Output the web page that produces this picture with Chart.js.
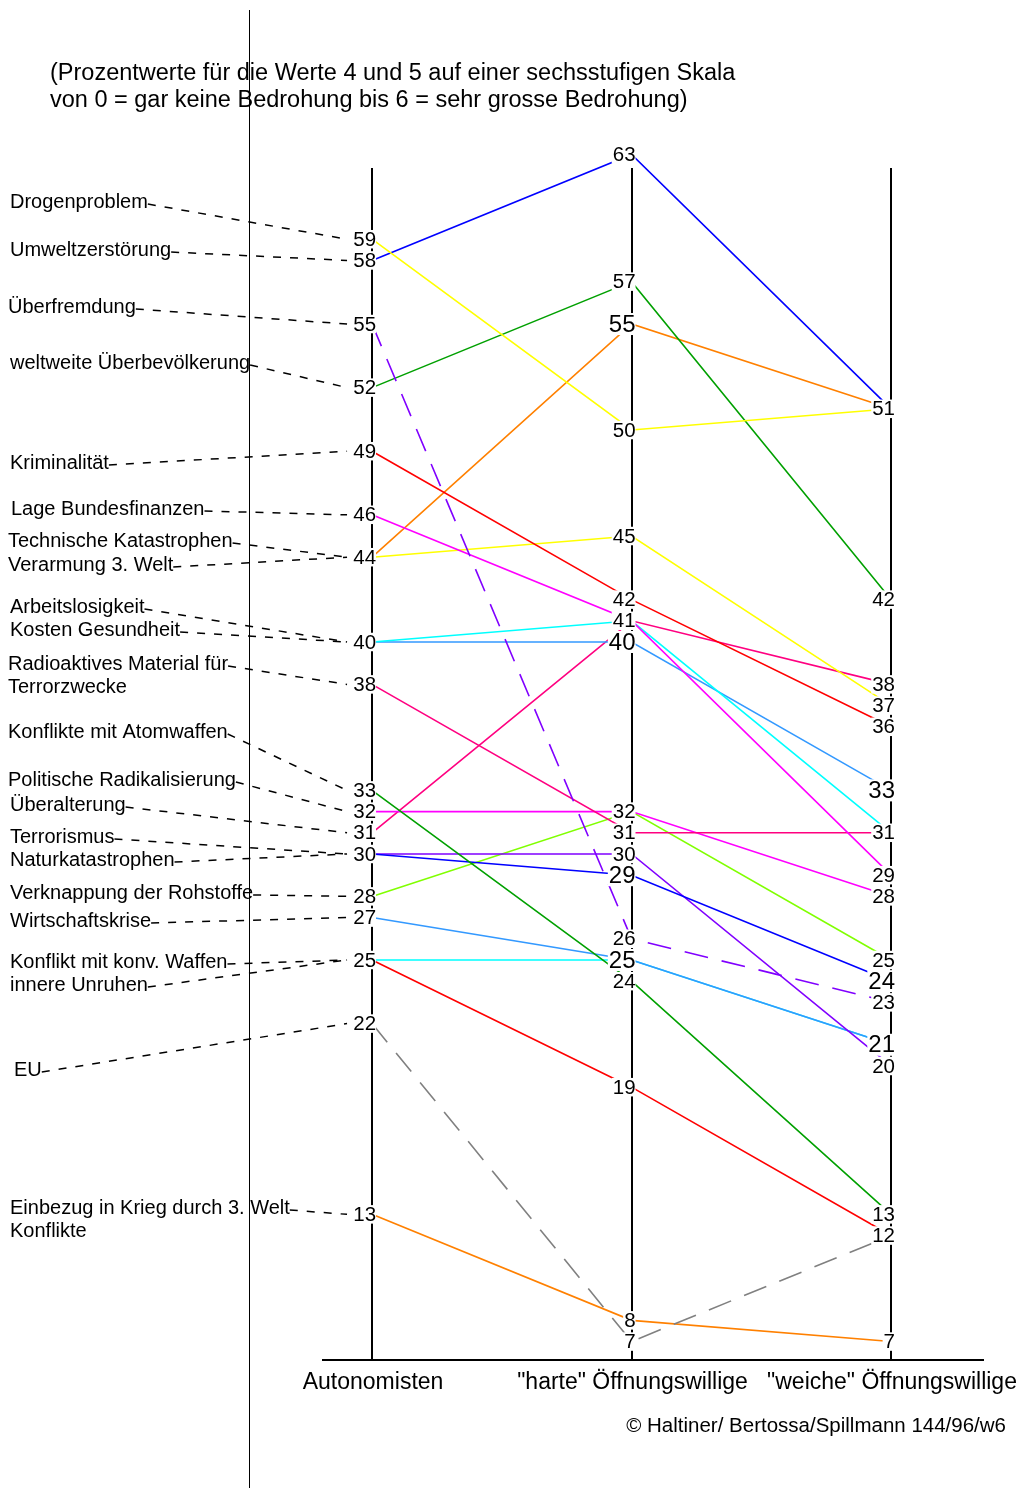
<!DOCTYPE html>
<html>
<head>
<meta charset="utf-8">
<script src="https://cdn.jsdelivr.net/npm/chart.js@4.4.1/dist/chart.umd.min.js"></script>
<style>
    body { margin: 0; background: #fff; }
    #wrap { position: relative; width: 1024px; height: 1488px; font-family: "Liberation Sans", Arial, sans-serif; color: #000; }
    #note { position: absolute; left: 50px; top: 59px; font-size: 23.5px; line-height: 27px; white-space: nowrap; }
    #copy { position: absolute; right: 18px; top: 1413px; font-size: 20.5px; white-space: nowrap; }
    #rule { position: absolute; left: 249px; top: 10px; height: 1478px; border-left: 1px solid #000; }
</style>
</head>
<body>
<div id="wrap">
    <canvas id="chart" width="1024" height="1488"></canvas>
    <div id="note">(Prozentwerte für die Werte 4 und 5 auf einer sechsstufigen Skala<br>von 0 = gar keine Bedrohung bis 6 = sehr grosse Bedrohung)</div>
    <div id="copy">© Haltiner/ Bertossa/Spillmann 144/96/w6</div>
    <div id="rule"></div>
</div>
<script>
// Data
const groups = ['Autonomisten', '"harte" Öffnungswillige', '"weiche" Öffnungswillige'];
const topics = [
    'Drogenproblem', 'Umweltzerstörung', 'Überfremdung', 'weltweite Überbevölkerung',
    'Kriminalität', 'Lage Bundesfinanzen', 'Technische Katastrophen', 'Verarmung 3. Welt',
    'Arbeitslosigkeit', 'Kosten Gesundheit', 'Radioaktives Material für\nTerrorzwecke',
    'Konflikte mit Atomwaffen', 'Politische Radikalisierung', 'Überalterung', 'Terrorismus',
    'Naturkatastrophen', 'Verknappung der Rohstoffe', 'Wirtschaftskrise',
    'Konflikt mit konv. Waffen', 'innere Unruhen', 'EU', 'Einbezug in Krieg durch 3. Welt\nKonflikte'
];
const autonomisten = [59, 58, 55, 52, 49, 46, 44, 44, 40, 40, 38, 33, 32, 31, 30, 30, 28, 27, 25, 25, 22, 13];
const harte        = [50, 63, 26, 57, 42, 41, 55, 45, 41, 40, 31, 24, 32, 41, 29, 30, 32, 25, 25, 19, 7, 8];
const weiche       = [51, 51, 23, 42, 36, 29, 51, 37, 31, 33, 31, 13, 28, 38, 24, 20, 25, 21, 21, 12, 12, 7];

// Styles
const colors = ['#FFFF00', '#0000FF', '#8000FF', '#00A000', '#FF0000', '#FF00FF', '#FF8000', '#FFFF00',
    '#00FFFF', '#3399FF', '#FF0080', '#00A000', '#FF00FF', '#FF0080', '#0000FF', '#8000FF',
    '#80FF00', '#3399FF', '#00FFFF', '#FF0000', '#808080', '#FF8000'];
const dashed = ['Überfremdung', 'EU'];
const bigLabels = [[], [55, 40, 29, 25], [33, 24, 21]];

// Layout of the left-hand topic labels (pixels)
const labelX = [10, 10, 8, 10, 10, 11, 8, 8, 10, 10, 8, 8, 8, 10, 10, 10, 10, 10, 10, 10, 14, 10];
const labelY = [202, 250, 307, 363, 463, 509, 541, 565, 607, 630, 664, 732, 780, 805, 837, 860, 893, 921, 962, 985, 1070, 1208];

const FONT = '"Liberation Sans", Arial, sans-serif';

// Topic labels, leader lines, value labels and group names
const annotate = {
    id: 'annotate',
    afterDatasetsDraw(chart) {
        const ctx = chart.ctx;
        const xs = chart.scales.x;
        const ys = chart.scales.y;
        ctx.save();
        ctx.textBaseline = 'middle';

        // topic labels with dashed leaders
        ctx.font = '20px ' + FONT;
        topics.forEach((t, i) => {
            const lines = t.split('\n');
            ctx.fillStyle = '#000';
            ctx.textAlign = 'left';
            lines.forEach((s, k) => ctx.fillText(s, labelX[i], labelY[i] + k * 23));
            const w = ctx.measureText(lines[0]).width;
            ctx.strokeStyle = '#000';
            ctx.lineWidth = 1.5;
            ctx.setLineDash([8, 9]);
            ctx.beginPath();
            ctx.moveTo(labelX[i] + w, labelY[i] + 2);
            ctx.lineTo(xs.getPixelForValue(0) - 25, ys.getPixelForValue(autonomisten[i]));
            ctx.stroke();
        });
        ctx.setLineDash([]);

        // value labels (one per distinct value on each axis)
        [autonomisten, harte, weiche].forEach((vals, g) => {
            const ax = xs.getPixelForValue(g) + 4;
            [...new Set(vals)].forEach(v => {
                const size = bigLabels[g].includes(v) ? 24 : 20.5;
                ctx.font = size + 'px ' + FONT;
                const txt = String(v);
                const w = ctx.measureText(txt).width;
                const y = ys.getPixelForValue(v);
                ctx.fillStyle = '#fff';
                ctx.fillRect(ax - w - 1, y - size / 2 + 1, w + 1, size - 2);
                ctx.fillStyle = '#000';
                ctx.textAlign = 'right';
                ctx.fillText(txt, ax, y + 1);
            });
        });

        // group names under the axes
        ctx.font = '23px ' + FONT;
        ctx.fillStyle = '#000';
        ctx.textAlign = 'center';
        groups.forEach((g, i) => ctx.fillText(g, xs.getPixelForValue(i) + 1, chart.chartArea.bottom + 23));
        ctx.restore();
    }
};

const datasets = topics.map((t, i) => ({
    label: t.replace('\n', ' '),
    data: [autonomisten[i], harte[i], weiche[i]].map((v, g) => ({ x: g, y: v })),
    borderColor: colors[i],
    borderWidth: 1.6,
    borderDash: dashed.includes(t) ? [24, 14] : [],
    pointRadius: 0,
    tension: 0,
    clip: false
}));

new Chart(document.getElementById('chart'), {
    type: 'line',
    data: { datasets },
    options: {
        responsive: false,
        animation: false,
        layout: { padding: { left: 323, right: 41, top: 168, bottom: 128 } },
        plugins: {
            legend: { display: false },
            tooltip: { enabled: false }
        },
        scales: {
            x: {
                type: 'linear',
                min: -0.189,
                max: 2.3545,
                afterBuildTicks: scale => { scale.ticks = groups.map((g, i) => ({ value: i })); },
                ticks: { display: false },
                grid: { color: '#000', lineWidth: 2, drawTicks: false },
                border: { display: true, color: '#000', width: 2 }
            },
            y: { display: false, min: 6.13, max: 62.36 }
        }
    },
    plugins: [annotate]
});
</script>
</body>
</html>
